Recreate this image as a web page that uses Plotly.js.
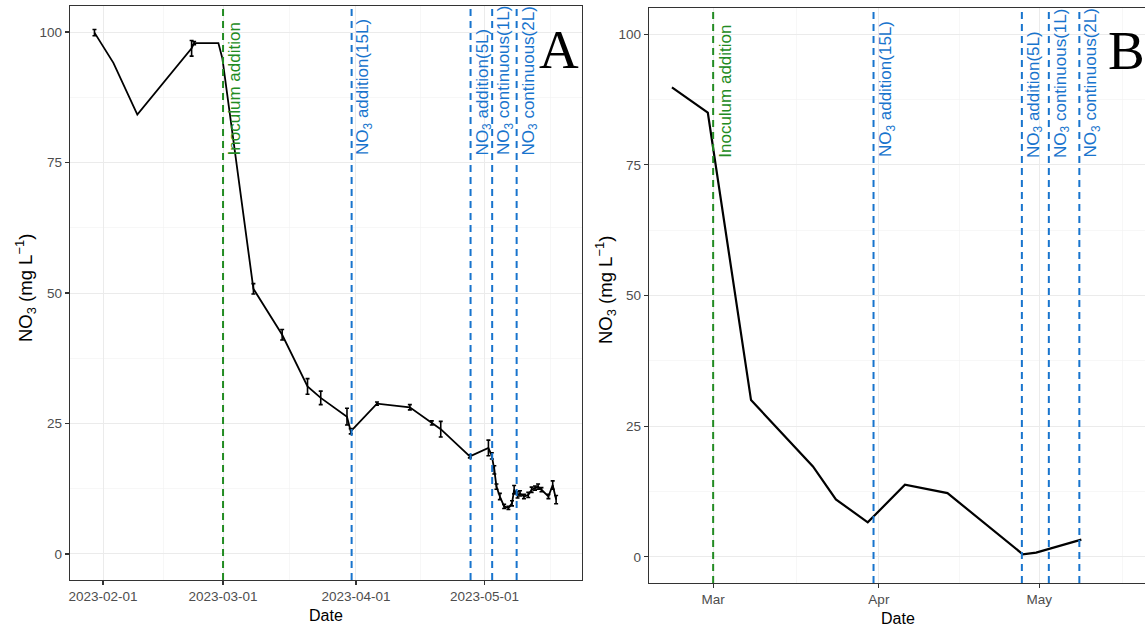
<!DOCTYPE html>
<html>
<head>
<meta charset="utf-8">
<script src="https://cdn.plot.ly/plotly-3.0.1.min.js"></script>
<style>
html,body{margin:0;padding:0;overflow:hidden;background:#fff;}
#chart{width:1190px;height:629px;}
</style>
</head>
<body>
<div id="chart"></div>
<script>
// ---- Panel A data (mean NO3, mg/L, with error; null = no error bar) ----
const datesA = ['2023-01-30 00:00','2023-02-03 10:00','2023-02-09 00:00','2023-02-21 16:00','2023-02-22 06:00',
  '2023-02-27 22:00','2023-02-28 20:00','2023-03-08 02:00','2023-03-14 19:00','2023-03-20 17:00',
  '2023-03-23 19:00','2023-03-29 22:00','2023-03-30 19:00','2023-04-05 22:00','2023-04-13 14:00',
  '2023-04-18 17:00','2023-04-20 19:00','2023-04-27 14:00','2023-05-01 22:00','2023-05-02 17:00',
  '2023-05-03 07:00','2023-05-03 19:00','2023-05-04 14:00','2023-05-05 14:00','2023-05-06 14:00',
  '2023-05-07 10:00','2023-05-07 22:00','2023-05-08 17:00','2023-05-09 07:00','2023-05-10 05:00',
  '2023-05-11 05:00','2023-05-12 00:00','2023-05-12 19:00','2023-05-13 12:00','2023-05-14 07:00',
  '2023-05-15 22:00','2023-05-16 22:00','2023-05-17 17:00'];
const valuesA = [99.9,94.1,84.2,96.9,97.9,97.9,95.0,50.8,42.0,32.1,
  29.9,26.3,23.5,28.8,28.1,25.1,23.9,18.7,20.3,18.8,
  16.1,12.9,11.0,9.1,8.8,9.7,12.3,11.3,11.6,11.0,
  11.3,12.3,12.6,12.9,12.3,11.0,13.2,10.4];
const errorsA = [0.6,null,null,1.5,0.3,null,null,1.0,1.0,1.5,
  1.3,1.6,0.5,0.3,0.5,0.4,1.5,0.3,1.5,0.6,
  0.8,0.5,0.6,0.4,0.3,0.5,0.8,0.6,0.5,0.4,
  0.5,0.5,0.4,0.5,0.4,0.4,0.8,0.8];

// ---- Panel B data ----
const datesB = ['2023-02-21 07:00','2023-02-28 00:00','2023-03-08 02:00','2023-03-19 16:00','2023-03-23 23:00',
  '2023-03-29 22:00','2023-04-05 21:00','2023-04-13 20:00','2023-04-27 22:00','2023-04-30 10:00','2023-05-08 21:00'];
const valuesB = [89.8,85.0,30.0,17.3,11.0,6.6,13.8,12.2,0.5,0.8,3.3];

// ---- Events (vertical dashed lines) ----
const eventDates = ['2023-03-01 00:00','2023-03-31 00:00','2023-04-27 18:00','2023-05-02 19:00','2023-05-08 12:00'];
const eventLabels = ['Inoculum addition','NO<sub>3</sub> addition(15L)','NO<sub>3</sub> addition(5L)',
  'NO<sub>3</sub> continuous(1L)','NO<sub>3</sub> continuous(2L)'];
const eventColors = ['#228B22','#1874CD','#1874CD','#1874CD','#1874CD'];

// ---- Axis ticks ----
const xTicksA = ['2023-02-01','2023-03-01','2023-04-01','2023-05-01'];
const xMinorA = ['2023-02-15 00:00','2023-03-16 12:00','2023-04-16 00:00','2023-05-16 12:00'];
const xTicksB = ['2023-03-01','2023-04-01','2023-05-01'];
const xMinorB = ['2023-03-16 12:00','2023-04-16 00:00','2023-05-16 12:00'];
const yTicks = [0,25,50,75,100];
const yMinor = [12.5,37.5,62.5,87.5];

const W = 1190, H = 629;
const FONT = 'Liberation Sans, Arial, sans-serif';
const px = p => p / W;
const py = p => (H - p) / H;

// points that carry an error bar
const idxErr = errorsA.map((e,i) => e == null ? -1 : i).filter(i => i >= 0);

const traces = [
  {x: datesA, y: valuesA, xaxis:'x', yaxis:'y', type:'scatter', mode:'lines',
   line:{color:'#000', width:1.8}, showlegend:false},
  {x: idxErr.map(i => datesA[i]), y: idxErr.map(i => valuesA[i]), xaxis:'x', yaxis:'y',
   type:'scatter', mode:'markers', marker:{size:1, opacity:0},
   error_y:{type:'data', array: idxErr.map(i => errorsA[i]), visible:true, color:'#000', thickness:1.6, width:2},
   showlegend:false},
  {x: datesB, y: valuesB, xaxis:'x2', yaxis:'y2', type:'scatter', mode:'lines',
   line:{color:'#000', width:2.2}, showlegend:false}
];

function xAxis(domain, range, ticks, minor, fmt){
  return {domain, range, type:'date', tickmode:'array', tickvals:ticks, tickformat:fmt,
    showgrid:true, gridcolor:'#EBEBEB', gridwidth:1,
    minor:{tickmode:'array', tickvals:minor, showgrid:true, gridcolor:'#F2F2F2', gridwidth:0.6, ticks:''},
    showline:true, mirror:true, linecolor:'#333', linewidth:1.2,
    ticks:'outside', ticklen:4, tickwidth:1.2, tickcolor:'#333',
    tickfont:{family:FONT, size:13.5, color:'#4D4D4D'}, zeroline:false, automargin:false, fixedrange:true};
}
function yAxis(domain, anchor){
  return {domain, anchor, range:[-5,105], tickmode:'array', tickvals:yTicks,
    showgrid:true, gridcolor:'#EBEBEB', gridwidth:1,
    minor:{tickmode:'array', tickvals:yMinor, showgrid:true, gridcolor:'#F2F2F2', gridwidth:0.6, ticks:''},
    showline:true, mirror:true, linecolor:'#333', linewidth:1.2,
    ticks:'outside', ticklen:4, tickwidth:1.2, tickcolor:'#333',
    tickfont:{family:FONT, size:13.5, color:'#4D4D4D'}, zeroline:false, automargin:false, fixedrange:true};
}

const shapes = [];
const annotations = [];
[['x','y'],['x2','y2']].forEach(([xa,ya]) => {
  eventDates.forEach((d,i) => {
    shapes.push({type:'line', xref:xa, yref:ya+' domain', x0:d, x1:d, y0:0, y1:1, layer:'above',
      line:{color:eventColors[i], width:2, dash:'7px,5px'}});
    annotations.push({xref:xa, yref:ya, x:d, y:76, text:eventLabels[i], textangle:-90,
      xanchor:'left', yanchor:'bottom', showarrow:false, xshift:0,
      font:{family:FONT, size:17, color:eventColors[i]}});
  });
});

// axis titles
annotations.push({xref:'paper', yref:'paper', x:px(326), y:py(615), text:'Date', showarrow:false,
  xanchor:'center', yanchor:'middle', font:{family:FONT, size:16, color:'#000'}});
annotations.push({xref:'paper', yref:'paper', x:px(898), y:py(618), text:'Date', showarrow:false,
  xanchor:'center', yanchor:'middle', font:{family:FONT, size:16, color:'#000'}});
annotations.push({xref:'paper', yref:'paper', x:px(25), y:py(288), text:'NO<sub>3</sub> (mg L<sup>−1</sup>)',
  textangle:-90, showarrow:false, xanchor:'center', yanchor:'middle', font:{family:FONT, size:18.5, color:'#000'}});
annotations.push({xref:'paper', yref:'paper', x:px(605), y:py(290), text:'NO<sub>3</sub> (mg L<sup>−1</sup>)',
  textangle:-90, showarrow:false, xanchor:'center', yanchor:'middle', font:{family:FONT, size:18.5, color:'#000'}});
// panel letters
annotations.push({xref:'paper', yref:'paper', x:px(558.5), y:py(50), text:'A', showarrow:false,
  xanchor:'center', yanchor:'middle', font:{family:'Liberation Serif, Times New Roman, serif', size:55, color:'#000'}});
annotations.push({xref:'paper', yref:'paper', x:px(1126), y:py(51), text:'B', showarrow:false,
  xanchor:'center', yanchor:'middle', font:{family:'Liberation Serif, Times New Roman, serif', size:55, color:'#000'}});

const layout = {
  width: W, height: H,
  margin:{l:0, r:0, t:0, b:0},
  paper_bgcolor:'#fff', plot_bgcolor:'#fff',
  showlegend:false,
  xaxis: Object.assign(xAxis([px(70), px(582)], ['2023-01-24 07:00','2023-05-23 18:00'], xTicksA, xMinorA, '%Y-%m-%d'), {anchor:'y'}),
  yaxis: yAxis([py(580), py(6)], 'x'),
  xaxis2: Object.assign(xAxis([px(649), px(1170)], ['2023-02-17 00:00','2023-05-25 11:00'], xTicksB, xMinorB, '%b'), {anchor:'y2'}),
  yaxis2: yAxis([py(583), py(8)], 'x2'),
  shapes, annotations
};

Plotly.newPlot('chart', traces, layout, {staticPlot:true, displayModeBar:false});
</script>
</body>
</html>
